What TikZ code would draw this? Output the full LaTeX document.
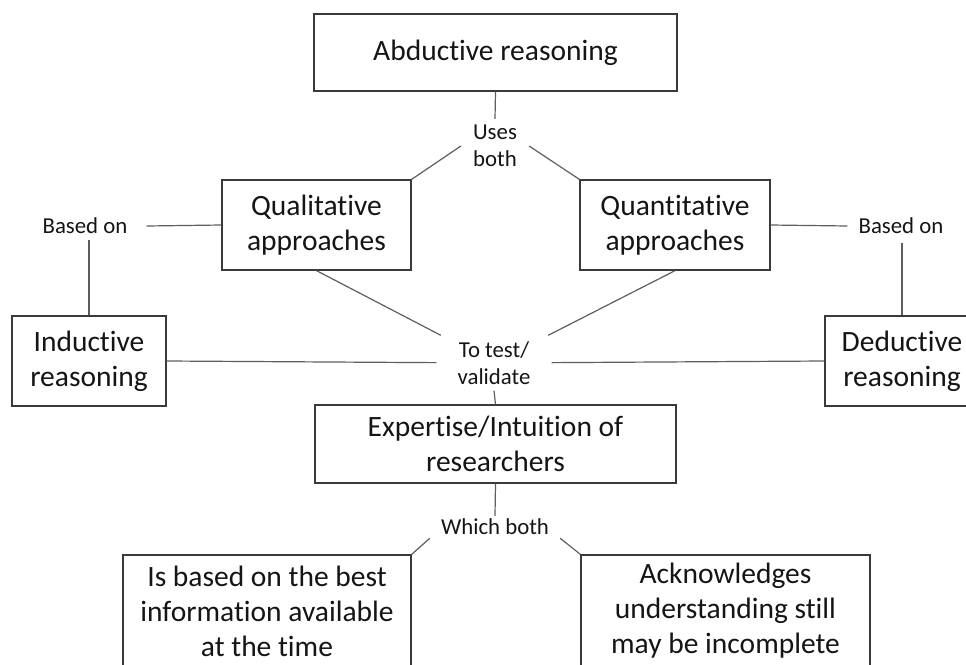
\documentclass[tikz,border=0pt]{standalone}
\usepackage{fontspec}
\setmainfont{Carlito}[Ligatures=NoCommon]
\definecolor{boxline}{HTML}{3A3A3A}
\definecolor{linkline}{HTML}{5E5E5E}
\definecolor{ink}{HTML}{151515}
\begin{document}
\begin{tikzpicture}[x=1pt,y=-1pt,
  box/.style={draw=boxline, line width=1.3pt, fill=white, align=center,
    inner sep=0pt, text=ink, font=\fontsize{29.5}{35}\selectfont},
  lbl/.style={align=center, text=ink, font=\fontsize{22.8}{27}\selectfont},
  link/.style={draw=linkline, line width=1.2pt}]
\clip (0,0) rectangle (966,664);
\fill[white] (0,0) rectangle (966,664);

% boxes
\node[box, minimum width=363pt, minimum height=77pt] (abd) at (495.5,52.5) {Abductive reasoning};
\node[box, minimum width=189pt, minimum height=90pt] (qual) at (316.5,225) {Qualitative\\approaches};
\node[box, minimum width=190pt, minimum height=90pt] (quant) at (675,225) {Quantitative\\approaches};
\node[box, minimum width=154pt, minimum height=90pt] (ind) at (89,361) {Inductive\\reasoning};
\node[box, minimum width=154pt, minimum height=90pt] (ded) at (902,361) {Deductive\\reasoning};
\node[box, minimum width=361pt, minimum height=78pt] (exp) at (495.5,444) {Expertise/Intuition of\\researchers};
\node[box, minimum width=288pt, minimum height=112pt] (best) at (267,611) {Is based on the best\\information available\\at the time};
\node[box, minimum width=289pt, minimum height=112pt] (ack) at (725.5,611) {Acknowledges\\understanding still\\may be incomplete};

% connector labels
\node[lbl, inner xsep=12pt, inner ysep=6pt] (uses) at (495,146) {Uses\\both};
\node[lbl, inner xsep=19pt, inner ysep=6pt] (basedL) at (85,226) {Based on};
\node[lbl, inner xsep=11pt, inner ysep=9pt] (basedR) at (901,226) {Based on};
\node[lbl, inner xsep=21pt, inner ysep=6pt] (test) at (494,363) {To test/\\validate};
\node[lbl, inner xsep=11pt, inner ysep=3pt] (which) at (495,527) {Which both};

% connectors
\draw[link] (abd.south) -- (uses.north);
\draw[link] (uses.west) -- (qual.north east);
\draw[link] (uses.east) -- (quant.north west);
\draw[link] (basedL.east) -- (qual.west);
\draw[link] (ind.north) -- (ind.north |- basedL.south);
\draw[link] (quant.east) -- (basedR.west);
\draw[link] (ded.north) -- (ded.north |- basedR.south);
\draw[link] (qual.south) -- (test);
\draw[link] (quant.south) -- (test);
\draw[link] (ind.east) -- (test);
\draw[link] (ded.west) -- (test);
\draw[link] (test.south) -- (exp.north);
\draw[link] (exp.south) -- (which.north);
\draw[link] (which.south west) -- (best.north east);
\draw[link] (which.south east) -- (ack.north west);
\end{tikzpicture}
\end{document}
